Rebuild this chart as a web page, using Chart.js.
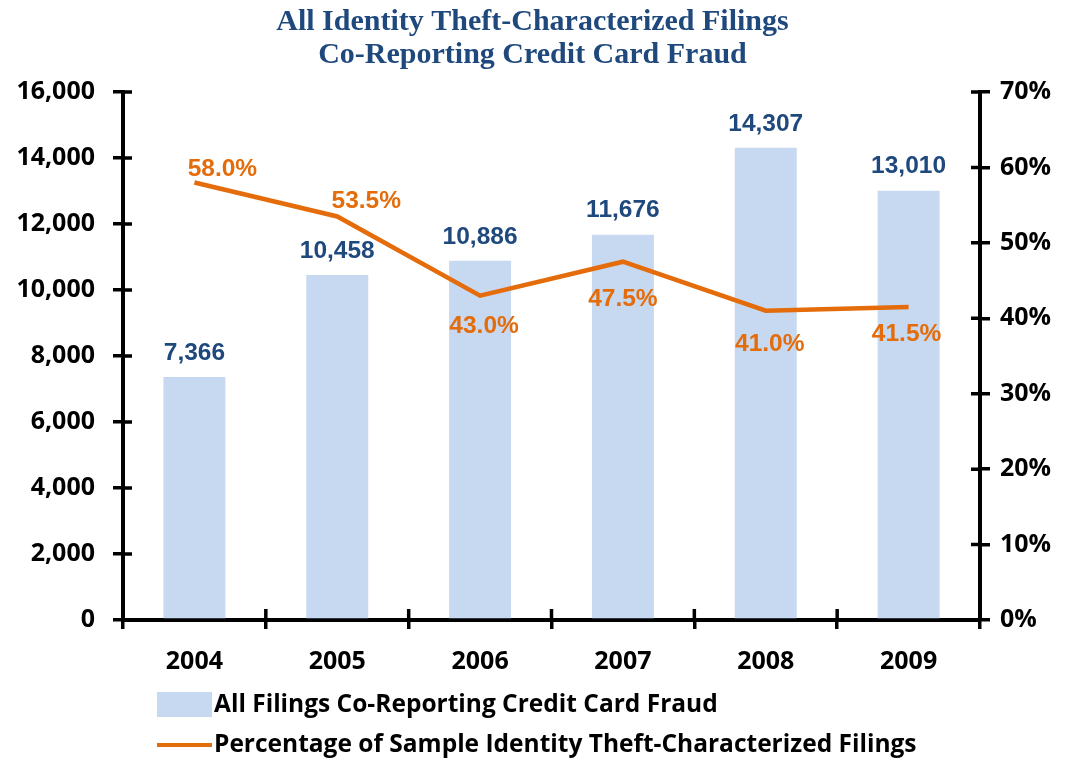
<!DOCTYPE html>
<html>
<head>
<meta charset="utf-8">
<script src="https://cdn.jsdelivr.net/npm/chart.js@4.4.1/dist/chart.umd.min.js"></script>
<style>
  html, body { margin: 0; padding: 0; background: #fff; }
  #wrap { width: 1065px; height: 761px; }
</style>
</head>
<body>
<div id="wrap"><canvas id="myChart" width="1065" height="761"></canvas></div>
<script>
// chart data
const years = ['2004', '2005', '2006', '2007', '2008', '2009'];
const filings = [7366, 10458, 10886, 11676, 14307, 13010];
const percentages = [58.0, 53.5, 43.0, 47.5, 41.0, 41.5];
const barLabel = 'All Filings Co-Reporting Credit Card Fraud';
const lineLabel = 'Percentage of Sample Identity Theft-Characterized Filings';

// where the % labels sit relative to their point (dx, dy)
const pctLabelOffsets = [[28, -13], [29, -15], [4, 31], [0, 38], [4, 34], [-2, 27]];

const blue = '#1F497D';
const barColor = '#C6D9F1';
const orange = '#E46C0A';
const axisFont = { family: '"Open Sans"', size: 25, weight: 'bold' };

let valueLabels = {
  id: 'valueLabels',
  afterDatasetsDraw(chart) {
    let ctx = chart.ctx;
    ctx.save();
    ctx.font = 'bold 24.5px "Liberation Sans", Arial';
    ctx.textAlign = 'center';
    ctx.textBaseline = 'middle';
    let bars = chart.getDatasetMeta(0).data;
    bars.forEach((bar, i) => {
      ctx.fillStyle = blue;
      ctx.fillText(filings[i].toLocaleString('en-US'), bar.x, bar.y - 24);
    });
    let pts = chart.getDatasetMeta(1).data;
    pts.forEach((pt, i) => {
      ctx.fillStyle = orange;
      ctx.fillText(percentages[i].toFixed(1) + '%', pt.x + pctLabelOffsets[i][0], pt.y + pctLabelOffsets[i][1]);
    });
    ctx.restore();
  }
};

// tick marks that also poke into the plot, like the original
let innerTicks = {
  id: 'innerTicks',
  afterDraw(chart) {
    let ctx = chart.ctx;
    let area = chart.chartArea;
    ctx.save();
    ctx.strokeStyle = '#000';
    ctx.lineWidth = 3.5;
    ctx.beginPath();
    chart.scales.y.ticks.forEach((t, i) => {
      let y = chart.scales.y.getPixelForTick(i);
      ctx.moveTo(area.left, y);
      ctx.lineTo(area.left + 9, y);
    });
    chart.scales.y1.ticks.forEach((t, i) => {
      let y = chart.scales.y1.getPixelForTick(i);
      ctx.moveTo(area.right - 9, y);
      ctx.lineTo(area.right, y);
    });
    let xs = chart.scales.x;
    let step = xs.getPixelForValue(1) - xs.getPixelForValue(0);
    for (let i = 0; i <= years.length; i++) {
      let x = xs.getPixelForValue(0) - step / 2 + i * step;
      ctx.moveTo(x, area.bottom - 11);
      ctx.lineTo(x, area.bottom);
    }
    ctx.stroke();

    // legend
    let lx = area.left + 34;
    ctx.fillStyle = barColor;
    ctx.fillRect(lx, area.bottom + 72, 55, 25);
    ctx.strokeStyle = orange;
    ctx.lineWidth = 4;
    ctx.beginPath();
    ctx.moveTo(lx, area.bottom + 125);
    ctx.lineTo(lx + 55, area.bottom + 125);
    ctx.stroke();
    ctx.fillStyle = '#000';
    ctx.font = 'bold 24.5px "Open Sans"';
    ctx.textAlign = 'left';
    ctx.textBaseline = 'middle';
    ctx.fillText(barLabel, lx + 57, area.bottom + 85);
    ctx.fillText(lineLabel, lx + 57, area.bottom + 125);
    ctx.restore();
  }
};

let ctx = document.getElementById('myChart');
let myChart = new Chart(ctx, {
  data: {
    labels: years,
    datasets: [
      {
        type: 'bar',
        label: barLabel,
        data: filings,
        backgroundColor: barColor,
        barPercentage: 0.434,
        categoryPercentage: 1,
        yAxisID: 'y',
        order: 2
      },
      {
        type: 'line',
        label: lineLabel,
        data: percentages,
        borderColor: orange,
        borderWidth: 4.5,
        pointRadius: 0,
        tension: 0,
        yAxisID: 'y1',
        order: 1
      }
    ]
  },
  plugins: [valueLabels, innerTicks],
  options: {
    responsive: false,
    animation: false,
    layout: { padding: 0 },
    plugins: {
      legend: { display: false },
      tooltip: { enabled: false },
      title: {
        display: true,
        text: ['All Identity Theft-Characterized Filings', 'Co-Reporting Credit Card Fraud'],
        color: blue,
        font: { family: '"Liberation Serif", "Times New Roman"', size: 30, weight: 'bold', lineHeight: 1.1 },
        padding: { top: 6, bottom: 20 }
      }
    },
    scales: {
      x: {
        grid: { display: true, drawOnChartArea: false, offset: true, color: '#000', lineWidth: 3.5, tickLength: 9 },
        border: { display: true, color: '#000', width: 4 },
        ticks: { color: '#000', font: axisFont, padding: 18, maxRotation: 0 },
        afterFit: (s) => { s.height = 141; }
      },
      y: {
        position: 'left',
        min: 0,
        max: 16000,
        grid: { drawOnChartArea: false, color: '#000', lineWidth: 3.5, tickLength: 10 },
        border: { display: true, color: '#000', width: 4 },
        ticks: {
          stepSize: 2000,
          color: '#000',
          font: axisFont,
          padding: 18,
          callback: (v) => v.toLocaleString('en-US')
        },
        afterFit: (s) => { s.width = 123; }
      },
      y1: {
        position: 'right',
        min: 0,
        max: 70,
        grid: { drawOnChartArea: false, color: '#000', lineWidth: 3.5, tickLength: 10 },
        border: { display: true, color: '#000', width: 4 },
        ticks: {
          stepSize: 10,
          color: '#000',
          font: axisFont,
          padding: 10,
          callback: (v) => v + '%'
        },
        afterFit: (s) => { s.width = 85; }
      }
    }
  }
});
</script>
</body>
</html>
